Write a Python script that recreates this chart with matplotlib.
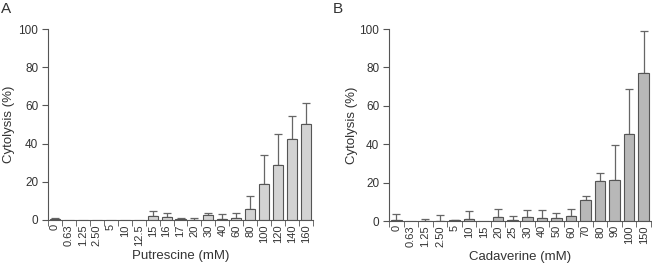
import matplotlib
matplotlib.use("Agg")
import matplotlib.pyplot as plt
import numpy as np

plt.rcParams["font.family"] = ["Liberation Sans", "DejaVu Sans"]

# Panel A: putrescine
put_labels = ["0", "0.63", "1.25", "2.50", "5", "10", "12.5", "15", "16", "17",
              "20", "30", "40", "60", "80", "100", "120", "140", "160"]
put_mean = [0.3, 0, 0, 0, 0, 0, 0, 2.2, 1.8, 0.3, 0.2, 2.5, 0.5, 1.3, 6.0,
            18.8, 28.6, 42.3, 50.5]
put_err = [0.8, 0, 0, 0, 0, 0, 0, 2.6, 2.0, 0.8, 0.6, 1.3, 2.8, 2.5, 6.8,
           15.4, 16.2, 12.3, 10.8]

# Panel B: cadaverine
cad_labels = ["0", "0.63", "1.25", "2.50", "5", "10", "15", "20", "25", "30",
              "40", "50", "60", "70", "80", "90", "100", "150"]
cad_mean = [0.3, 0, 0.2, 0.1, 0.3, 1.0, 0, 2.0, 0.3, 2.0, 1.8, 1.6, 2.8,
            10.7, 20.6, 21.2, 45.1, 77.2]
cad_err = [3.2, 0, 0.6, 2.9, 0.1, 4.0, 0, 4.2, 2.4, 3.5, 4.1, 2.8, 3.5,
           2.1, 4.2, 18.4, 23.5, 22.0]


def draw_panel(ax, labels, mean, err, color, xlabel, ylab_x):
    x = np.arange(len(labels))
    ax.bar(x, mean, width=0.72, color=color, edgecolor="#555555", linewidth=0.8,
           zorder=2)
    has_err = [e > 0 for e in err]
    ax.errorbar(x[has_err], np.array(mean)[has_err],
                yerr=[np.zeros(sum(has_err)), np.array(err)[has_err]],
                fmt="none", ecolor="#666666", elinewidth=0.9, capsize=3,
                capthick=0.9, zorder=1)
    ax.set_xlim(-0.5, len(labels) - 0.5)
    ax.set_ylim(0, 100)
    ax.set_yticks(range(0, 101, 20))
    ax.set_xticks(x)
    ax.set_xticklabels(labels, rotation=90, fontsize=8, color="#333333")
    ax.set_xticks(np.arange(-0.5, len(labels), 1), minor=True)
    ax.tick_params(axis="x", which="major", length=0, pad=3)
    ax.tick_params(axis="x", which="minor", length=4, color="#555555",
                   direction="out")
    ax.tick_params(axis="y", length=4, color="#555555", labelsize=8.5,
                   labelcolor="#333333", pad=3)
    for s in ["top", "right"]:
        ax.spines[s].set_visible(False)
    for s in ["left", "bottom"]:
        ax.spines[s].set_color("#555555")
        ax.spines[s].set_linewidth(0.8)
    ax.set_ylabel("Cytolysis (%)", fontsize=9.5, color="#333333")
    ax.yaxis.set_label_coords(ylab_x, 0.5)
    ax.set_xlabel(xlabel, fontsize=9.5, color="#333333", labelpad=3)


fig = plt.figure(figsize=(6.52, 2.66), dpi=100)
ax1 = fig.add_axes([48 / 652, 1 - 220 / 266, 265 / 652, 191 / 266])
ax2 = fig.add_axes([389 / 652, 1 - 221 / 266, 262 / 652, 192 / 266])

draw_panel(ax1, put_labels, put_mean, put_err, "#d3d3d3", "Putrescine (mM)",
           -33 / 265)
draw_panel(ax2, cad_labels, cad_mean, cad_err, "#b8b8b8", "Cadaverine (mM)",
           -31 / 262)

fig.text(1 / 652, 1 - 9 / 266, "A", fontsize=11, va="center", ha="left",
         color="#333333")
fig.text(333 / 652, 1 - 9 / 266, "B", fontsize=11, va="center", ha="left",
         color="#333333")

fig.savefig("out.png", dpi=100)
